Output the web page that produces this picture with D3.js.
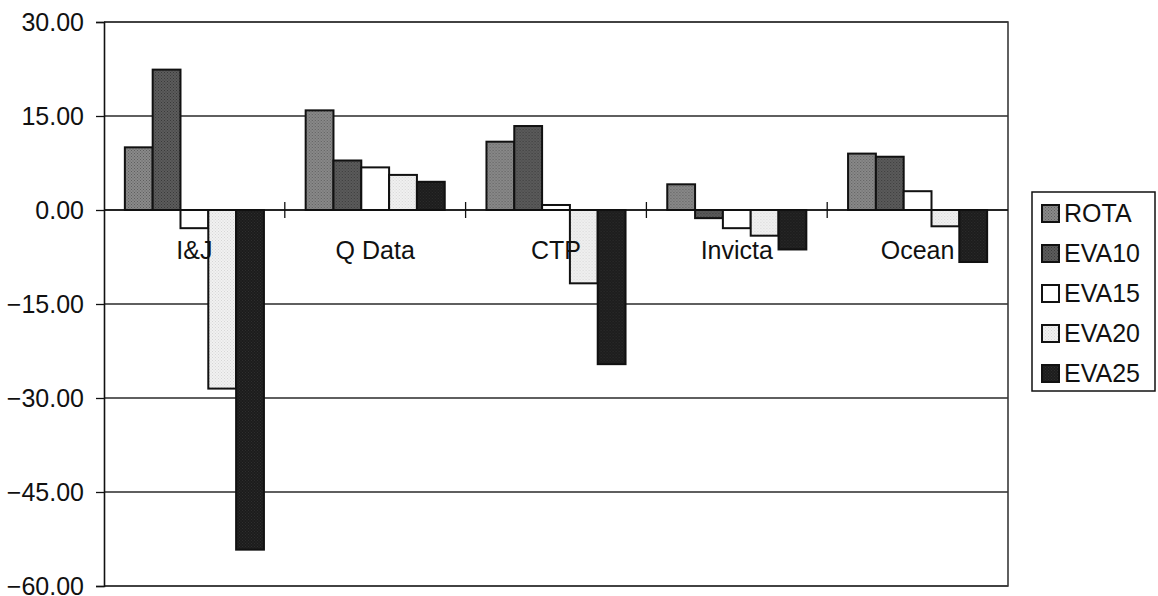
<!DOCTYPE html>
<html>
<head>
<meta charset="utf-8">
<script src="https://cdn.jsdelivr.net/npm/d3@7/dist/d3.min.js"></script>
<style>
  html, body { margin: 0; padding: 0; background: #fff; }
  svg { display: block; }
  text { font-family: "Liberation Sans", Arial, sans-serif; fill: #111; }
</style>
</head>
<body>
<svg id="chart" width="1158" height="596"></svg>
<script>
// Companies and performance measures
const categories = ["I&J", "Q Data", "CTP", "Invicta", "Ocean"];
const seriesNames = ["ROTA", "EVA10", "EVA15", "EVA20", "EVA25"];

// Values per measure, one entry per company
const rota  = [10.0, 15.9, 10.9,  4.1,  9.0];
const eva10 = [22.4,  7.9, 13.4, -1.3,  8.5];
const eva15 = [-2.9,  6.8,  0.8, -2.9,  3.0];
const eva20 = [-28.5, 5.6, -11.7, -4.1, -2.6];
const eva25 = [-54.2, 4.5, -24.6, -6.3, -8.3];

const yTicks = [30, 15, 0, -15, -30, -45, -60];

const seriesValues = [rota, eva10, eva15, eva20, eva25];

const svg = d3.select("#chart");
const defs = svg.append("defs");

// Halftone-like fills for the bars
function dotPattern(id, bg, dot) {
  const p = defs.append("pattern")
    .attr("id", id).attr("patternUnits", "userSpaceOnUse")
    .attr("width", 3).attr("height", 3);
  p.append("rect").attr("width", 3).attr("height", 3).attr("fill", bg);
  p.append("rect").attr("x", 0).attr("y", 0).attr("width", 1).attr("height", 1).attr("fill", dot);
  p.append("rect").attr("x", 1.5).attr("y", 1.5).attr("width", 1).attr("height", 1).attr("fill", dot);
}
dotPattern("pRota", "#8a8a8a", "#5e5e5e");
dotPattern("pEva10", "#5c5c5c", "#3a3a3a");
dotPattern("pEva20", "#f1f1f1", "#d6d6d6");
dotPattern("pEva25", "#1c1c1c", "#2e2e2e");

const fills = ["url(#pRota)", "url(#pEva10)", "#ffffff", "url(#pEva20)", "url(#pEva25)"];

const plot = { left: 104, right: 1008, top: 22, bottom: 586 };

const y = d3.scaleLinear().domain([-60, 30]).range([plot.bottom, plot.top]);
const x0 = d3.scaleBand().domain(categories).range([plot.left, plot.right]).padding(0);
const bw = x0.bandwidth();
const gap = bw * 0.75 / 6.5;
const x1 = d3.scaleBand().domain(seriesNames).range([gap, bw - gap]).padding(0);

// Horizontal gridlines
svg.append("g")
  .selectAll("line")
  .data(yTicks)
  .join("line")
  .attr("x1", plot.left).attr("x2", plot.right)
  .attr("y1", d => y(d)).attr("y2", d => y(d))
  .attr("stroke", "#2a2a2a").attr("stroke-width", 1.3);

// Plot frame (top, right, bottom)
svg.append("path")
  .attr("d", `M${plot.left},${plot.top}H${plot.right}V${plot.bottom}H${plot.left}`)
  .attr("fill", "none").attr("stroke", "#3a3a3a").attr("stroke-width", 1.6);

// Bars
const groups = svg.append("g").selectAll("g")
  .data(categories)
  .join("g")
  .attr("transform", d => `translate(${x0(d)},0)`);

groups.selectAll("rect")
  .data((c, ci) => seriesNames.map((s, si) => ({ s, si, v: seriesValues[si][ci] })))
  .join("rect")
  .attr("x", d => x1(d.s))
  .attr("width", x1.bandwidth())
  .attr("y", d => y(Math.max(0, d.v)))
  .attr("height", d => Math.abs(y(d.v) - y(0)))
  .attr("fill", d => fills[d.si])
  .attr("stroke", "#111").attr("stroke-width", 2);

// Zero line with category tick marks crossing it
svg.append("line")
  .attr("x1", plot.left).attr("x2", plot.right)
  .attr("y1", y(0)).attr("y2", y(0))
  .attr("stroke", "#111").attr("stroke-width", 1.3);

svg.append("g").selectAll("line")
  .data(categories.slice(1))
  .join("line")
  .attr("x1", d => x0(d)).attr("x2", d => x0(d))
  .attr("y1", y(0) - 8).attr("y2", y(0) + 8)
  .attr("stroke", "#111").attr("stroke-width", 1.3);

// Category labels under the zero line
svg.append("g").selectAll("text")
  .data(categories)
  .join("text")
  .attr("x", d => x0(d) + bw / 2)
  .attr("y", y(0) + 49)
  .attr("text-anchor", "middle")
  .attr("font-size", 25)
  .text(d => d);

// Value axis on the left
const yAxis = d3.axisLeft(y)
  .tickValues(yTicks)
  .tickFormat(d3.format(".2f"))
  .tickSize(8)
  .tickPadding(12);

const yAxisG = svg.append("g")
  .attr("transform", `translate(${plot.left},0)`)
  .call(yAxis);
yAxisG.select(".domain").attr("stroke", "#111").attr("stroke-width", 1.6);
yAxisG.selectAll(".tick line").attr("stroke", "#111").attr("stroke-width", 1.3);
yAxisG.selectAll(".tick text")
  .attr("font-size", 25)
  .attr("font-family", "'Liberation Sans', Arial, sans-serif")
  .attr("fill", "#111");

// Legend
const legend = { left: 1032, top: 192, width: 123, height: 199, step: 40 };
const lg = svg.append("g");
lg.append("rect")
  .attr("x", legend.left).attr("y", legend.top)
  .attr("width", legend.width).attr("height", legend.height)
  .attr("fill", "#fff").attr("stroke", "#111").attr("stroke-width", 1.5);

const items = lg.selectAll("g.item")
  .data(seriesNames)
  .join("g")
  .attr("class", "item")
  .attr("transform", (d, i) => `translate(${legend.left + 10},${legend.top + 21 + i * legend.step})`);

items.append("rect")
  .attr("x", 0).attr("y", -8)
  .attr("width", 17).attr("height", 17)
  .attr("fill", (d, i) => fills[i])
  .attr("stroke", "#111").attr("stroke-width", 2);

items.append("text")
  .attr("x", 22).attr("y", 9)
  .attr("font-size", 25)
  .text(d => d);
</script>
</body>
</html>
